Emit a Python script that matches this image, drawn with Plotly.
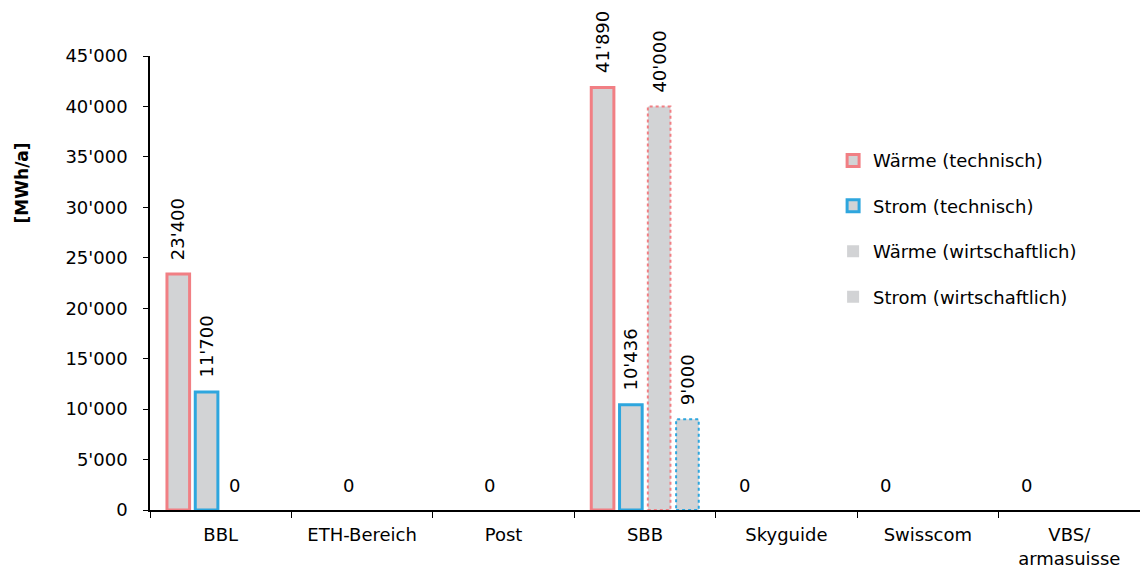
import plotly.graph_objects as go

categories = ["BBL", "ETH-Bereich", "Post", "SBB", "Skyguide", "Swisscom", "VBS/<br>armasuisse"]
series_names = ["Wärme (technisch)", "Strom (technisch)", "Wärme (wirtschaftlich)", "Strom (wirtschaftlich)"]
waerme_tech = [23400, None, None, 41890, 0, 0, 0]
strom_tech = [11700, 0, 0, 10436, None, None, None]
waerme_wirt = [0, None, None, 40000, None, None, None]
strom_wirt = [None, None, None, 9000, None, None, None]
y_ticks = [0, 5000, 10000, 15000, 20000, 25000, 30000, 35000, 40000, 45000]

series = [waerme_tech, strom_tech, waerme_wirt, strom_wirt]
PINK = "#f17f84"
BLUE = "#2ea6de"
colors = [PINK, BLUE, PINK, BLUE]
dotted = [False, False, True, True]
FILL = "#d2d3d5"
FONT = "DejaVu Sans, Arial"

BARGAP = 0.2
GROUPGAP = 0.2
n = len(series)
slot = (1 - BARGAP) / n
barw = slot * (1 - GROUPGAP)

def fmt(v):
    return f"{v:,}".replace(",", "'")

fig = go.Figure()
shapes = []
annotations = []
for k, (name, vals, col, dot) in enumerate(zip(series_names, series, colors, dotted)):
    draw = [v if (v is not None and v != 0) else None for v in vals]
    fig.add_trace(go.Bar(
        x=categories, y=draw, name=name,
        marker=dict(color=FILL, line=dict(color=col, width=0 if dot else 3)),
        legendgroup=name,
    ))
    for i, v in enumerate(vals):
        if v is None:
            continue
        off = -(1 - BARGAP) / 2 + slot * (k + 0.5)
        if v == 0:
            annotations.append(dict(x=i + off, y=0, xref="x", yref="y", text="0",
                                    showarrow=False, yanchor="bottom", yshift=12,
                                    font=dict(size=18, color="black")))
        else:
            annotations.append(dict(x=i + off, y=v, xref="x", yref="y", text=fmt(v),
                                    showarrow=False, textangle=-90, yanchor="bottom", yshift=12,
                                    font=dict(size=18, color="black")))
            if dot:
                shapes.append(dict(type="rect", xref="x", yref="y",
                                   x0=i + off - barw / 2, x1=i + off + barw / 2, y0=0, y1=v,
                                   line=dict(color=col, width=2, dash="dot")))

annotations.append(dict(x=-0.129, y=0.72, xref="paper", yref="paper", text="<b>[MWh/a]</b>",
                        xanchor="center", yanchor="middle",
                        showarrow=False, textangle=-90, font=dict(size=17, color="black")))

fig.update_layout(
    width=1140, height=571,
    margin=dict(l=150, r=0, t=56, b=61, autoexpand=False),
    paper_bgcolor="white", plot_bgcolor="white",
    barmode="group", bargap=BARGAP, bargroupgap=GROUPGAP,
    separators=".'",
    font=dict(family=FONT, size=18, color="black"),
    showlegend=True,
    legend=dict(x=0.69, y=0.81, xanchor="left", yanchor="top", bgcolor="rgba(0,0,0,0)",
                font=dict(size=18), tracegroupgap=19, traceorder="grouped", itemwidth=30),
    shapes=shapes, annotations=annotations,
)
fig.update_xaxes(showline=True, linecolor="black", linewidth=1.5, ticks="outside", tickson="boundaries",
                 ticklen=6, tickcolor="black", tickfont=dict(size=18), ticklabelstandoff=8,
                 automargin=False, range=[-0.5, len(categories) - 0.5])
fig.update_yaxes(range=[0, 45000], tickvals=y_ticks, tickformat=",d", showline=True, linecolor="black",
                 linewidth=1.5, ticks="outside", ticklen=5, tickcolor="black", showgrid=False, zeroline=False,
                 tickfont=dict(size=18), ticklabelstandoff=12, automargin=False)
fig.write_html("out.html", config={"displayModeBar": False},
               post_script="document.body.style.margin='0';document.body.style.overflow='hidden';")
